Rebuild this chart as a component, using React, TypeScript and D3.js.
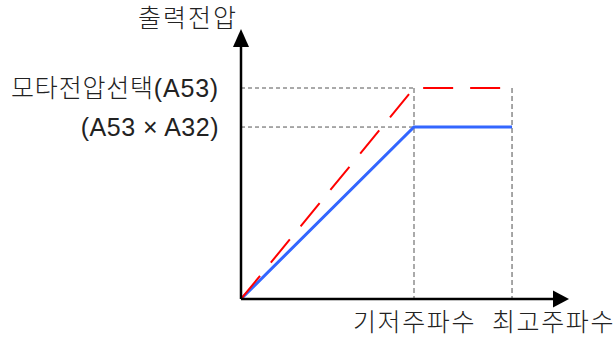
import React from "react";
import * as d3 from "d3";

const freqPoints = [0, 60, 94]; // 0, base freq, max freq
const redVoltage = [0, 100, 100]; // motor voltage select (A53)
const blueVoltage = [0, 81.5, 81.5]; // A53 x A32
const yLabels = ["모타전압선택(A53)", "(A53 × A32)"];
const yLabelValues = [100, 81.5];
const xLabels = ["기저주파수", "최고주파수"];
const yTitle = "출력전압";

const W = 614, H = 338;
const x = d3.scaleLinear().domain([0, 60]).range([241, 414]);
const y = d3.scaleLinear().domain([0, 100]).range([299, 88]);
const FONT = "'Liberation Sans', 'Noto Sans CJK KR', sans-serif";

export default function App() {
  const line = d3.line<number>().x((_, i) => x(freqPoints[i])).y((d) => y(d));
  const x0 = x(0), y0 = y(0);
  const xb = x(freqPoints[1]), xm = x(freqPoints[2]);
  const yTop = 29, xRight = 569;
  return (
    <svg width={W} height={H} style={{ position: "absolute", left: 0, top: 0 }}>
      <rect width={W} height={H} fill="#fff" />
      {/* guides */}
      <line x1={x0} x2={xb} y1={y(yLabelValues[0])} y2={y(yLabelValues[0])} stroke="#555" strokeWidth={1} strokeDasharray="4,3" />
      <line x1={x0} x2={xb} y1={y(yLabelValues[1])} y2={y(yLabelValues[1])} stroke="#555" strokeWidth={1} strokeDasharray="4,3" />
      <line x1={xb} x2={xb} y1={y(yLabelValues[0])} y2={y0} stroke="#aaa" strokeWidth={2} strokeDasharray="5,3" />
      <line x1={xm} x2={xm} y1={y(yLabelValues[0])} y2={y0} stroke="#777" strokeWidth={1.3} strokeDasharray="5,3" />
      {/* series */}
      <path d={line(blueVoltage) || ""} fill="none" stroke="#3366ff" strokeWidth={3} />
      <path d={line(redVoltage) || ""} fill="none" stroke="#ff0000" strokeWidth={2} strokeDasharray="30,17" />
      {/* axes */}
      <line x1={x0} x2={x0} y1={y0} y2={yTop + 16} stroke="#000" strokeWidth={2.5} />
      <path d={`M${x0},${yTop} L${x0 - 8},${yTop + 18} L${x0 + 8},${yTop + 18} Z`} fill="#000" />
      <line x1={x0} x2={xRight - 14} y1={y0} y2={y0} stroke="#000" strokeWidth={2.5} />
      <path d={`M${xRight},${y0} L${xRight - 16},${y0 - 8.5} L${xRight - 16},${y0 + 8.5} Z`} fill="#000" />
      {/* texts */}
      <g fontFamily={FONT} fontSize={25} fill="#222" fontWeight={300}>
        <text x={238} y={18} dy="0.35em" textAnchor="end" letterSpacing={2}>{yTitle}</text>
        <text x={219} y={y(yLabelValues[0])} dy="0.35em" textAnchor="end" letterSpacing={0.8}>{yLabels[0]}</text>
        <text x={219} y={y(yLabelValues[1])} dy="0.35em" textAnchor="end" letterSpacing={0.5}>{yLabels[1]}</text>
        <text x={353} y={322} dy="0.35em" letterSpacing={1.6}>{xLabels[0]}</text>
        <text x={492} y={322} dy="0.35em" letterSpacing={1.6}>{xLabels[1]}</text>
      </g>
    </svg>
  );
}
